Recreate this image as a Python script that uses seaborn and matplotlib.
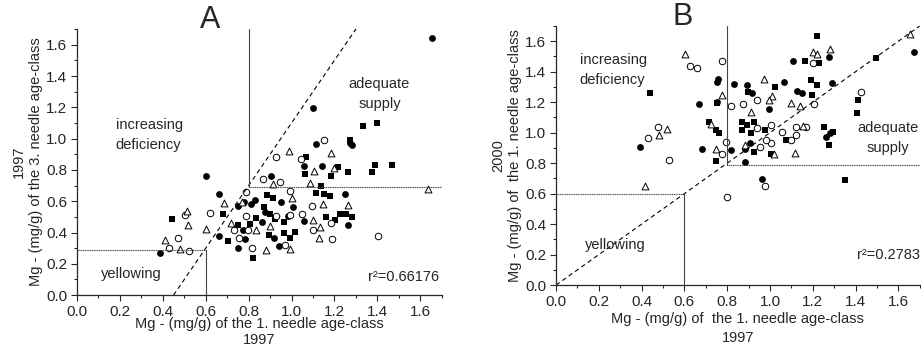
import matplotlib
matplotlib.use("Agg")
import numpy as np
import pandas as pd
import seaborn as sns
import matplotlib.pyplot as plt
from matplotlib.ticker import MultipleLocator

#%% data
# panel A : 1. vs 3. needle age-class, 1997
a_fcirc_x = [1.656, 1.098, 1.115, 1.141, 1.056, 1.274, 1.284, 0.602, 0.904, 0.664, 0.752, 0.777, 0.828, 0.813,
             0.952, 1.005, 1.247, 1.056, 1.265, 0.388, 0.664, 0.750, 0.784, 0.919, 0.940, 0.864, 0.878, 0.984, 0.772]
a_fcirc_y = [1.646, 1.198, 0.968, 0.825, 0.823, 0.974, 0.960, 0.761, 0.761, 0.644, 0.571, 0.593, 0.608, 0.584,
             0.597, 0.561, 0.644, 0.471, 0.450, 0.271, 0.380, 0.301, 0.356, 0.365, 0.311, 0.467, 0.533, 0.503, 0.418]
a_fsq_x = [0.442, 0.681, 0.704, 0.819, 0.752, 0.806, 0.833, 0.885, 0.913, 0.870, 0.898, 0.921, 0.964, 0.967,
           0.991, 1.014, 0.895, 1.067, 1.064, 1.116, 1.138, 1.152, 1.180, 1.184, 1.216, 1.262, 1.271, 1.335,
           1.397, 1.388, 1.374, 1.470, 1.161, 1.203, 1.226, 1.253, 1.281]
a_fsq_y = [0.484, 0.520, 0.343, 0.237, 0.450, 0.456, 0.495, 0.638, 0.618, 0.563, 0.520, 0.488, 0.467, 0.399,
           0.362, 0.405, 0.386, 0.883, 0.772, 0.652, 0.699, 0.648, 0.635, 0.759, 0.819, 0.787, 0.989, 1.079,
           1.102, 0.829, 0.787, 0.834, 0.499, 0.478, 0.520, 0.516, 0.499]
a_ocirc_x = [0.429, 0.473, 0.505, 0.521, 0.619, 0.788, 0.865, 0.927, 0.944, 0.788, 0.730, 0.757, 0.814, 0.795,
             0.928, 0.991, 0.991, 0.971, 1.043, 1.152, 1.095, 1.102, 1.186, 1.188, 1.405, 1.048]
a_ocirc_y = [0.301, 0.365, 0.510, 0.281, 0.527, 0.659, 0.740, 0.883, 0.723, 0.505, 0.414, 0.367, 0.299, 0.414,
             0.503, 0.512, 0.663, 0.322, 0.868, 0.989, 0.569, 0.414, 0.463, 0.360, 0.380, 0.520]
a_otri_x = [0.409, 0.482, 0.513, 0.516, 0.600, 0.687, 0.718, 0.769, 0.833, 0.881, 0.901, 0.915, 0.988, 0.994,
            1.002, 1.087, 1.105, 1.184, 1.200, 1.146, 1.102, 1.133, 1.130, 1.265, 1.634]
a_otri_y = [0.354, 0.296, 0.537, 0.446, 0.424, 0.588, 0.461, 0.595, 0.414, 0.286, 0.443, 0.708, 0.921, 0.296,
            0.623, 0.716, 0.793, 0.906, 0.812, 0.580, 0.478, 0.435, 0.367, 0.578, 0.680]

# panel B : 1. needle age-class 1997 vs 2000
b_fcirc_x = [0.391, 0.667, 0.682, 0.753, 0.757, 0.754, 0.833, 0.892, 0.915, 0.993, 0.883, 0.884, 0.817, 0.961,
             1.067, 1.106, 1.125, 1.150, 1.274, 1.291, 1.263, 1.279, 1.674, 0.905]
b_fcirc_y = [0.907, 1.187, 0.890, 1.333, 1.351, 1.202, 1.322, 1.311, 1.257, 1.154, 0.890, 0.809, 0.885, 0.693,
             1.333, 1.469, 1.274, 1.261, 1.497, 1.329, 0.973, 0.995, 1.526, 0.935]
b_fsq_x = [0.441, 0.715, 0.746, 0.762, 0.749, 0.754, 0.869, 0.869, 0.894, 0.912, 0.926, 0.923, 0.898, 0.978,
           1.025, 1.005, 1.075, 1.164, 1.192, 1.218, 1.228, 1.219, 1.196, 1.252, 1.276, 1.294, 1.349, 1.408,
           1.412, 1.495]
b_fsq_y = [1.257, 1.071, 1.016, 1.001, 0.813, 1.196, 1.067, 1.016, 1.049, 0.995, 1.071, 0.874, 1.268, 1.016,
           1.301, 0.863, 0.951, 1.471, 1.344, 1.635, 1.458, 1.311, 1.250, 1.038, 0.918, 1.005, 0.689, 1.126,
           1.217, 1.489]
b_ocirc_x = [0.432, 0.476, 0.526, 0.624, 0.659, 0.778, 0.775, 0.793, 0.797, 0.820, 0.875, 0.939, 0.939, 1.005,
             1.005, 1.055, 1.099, 1.121, 1.122, 1.169, 1.205, 1.200, 1.424, 0.975, 0.953, 0.981]
b_ocirc_y = [0.962, 1.034, 0.820, 1.438, 1.421, 1.469, 0.859, 0.940, 0.579, 1.174, 1.187, 1.213, 1.032, 1.049,
             0.929, 1.005, 0.951, 1.038, 0.984, 1.038, 1.185, 1.458, 1.268, 0.649, 0.907, 0.955]
b_otri_x = [0.415, 0.483, 0.520, 0.603, 0.726, 0.746, 0.775, 0.911, 0.884, 0.970, 1.008, 0.997, 1.017, 1.099,
            1.119, 1.141, 1.153, 1.202, 1.219, 1.279, 1.654]
b_otri_y = [0.649, 0.984, 1.021, 1.513, 1.060, 0.896, 1.246, 1.137, 0.918, 1.353, 1.242, 1.213, 0.863, 1.196,
            0.868, 1.174, 1.043, 1.530, 1.513, 1.552, 1.650]

#%% plotting
sns.set_style("ticks")
plt.rcParams['font.family'] = ['Liberation Sans', 'DejaVu Sans']
plt.rcParams['font.size'] = 10.5

fig = plt.figure(figsize=(9.21, 3.46), dpi=100)
axA = fig.add_axes([0.0836, 0.147, 0.396, 0.769])
axB = fig.add_axes([0.6037, 0.176, 0.395, 0.749])


def draw_points(ax, fc_x, fc_y, fs_x, fs_y, oc_x, oc_y, ot_x, ot_y):
    sns.scatterplot(x=fc_x, y=fc_y, marker='o', color='black', s=24, linewidth=0, ax=ax)
    sns.scatterplot(x=fs_x, y=fs_y, marker='s', color='black', s=20, linewidth=0, ax=ax)
    sns.scatterplot(x=oc_x, y=oc_y, marker='o', facecolor='white', edgecolor='black', s=22, linewidth=0.7, ax=ax)
    sns.scatterplot(x=ot_x, y=ot_y, marker='^', facecolor='white', edgecolor='black', s=24, linewidth=0.7, ax=ax)


def style_axis(ax):
    ax.set_xlim(0, 1.7)
    ax.set_ylim(0, 1.7)
    ax.xaxis.set_minor_locator(MultipleLocator(0.1))
    ax.yaxis.set_minor_locator(MultipleLocator(0.1))
    ticks = np.arange(0, 1.61, 0.2)
    ax.set_xticks(ticks)
    ax.set_yticks(ticks)
    ax.set_xticklabels([f"{v:.1f}" for v in ticks])
    ax.set_yticklabels([f"{v:.1f}" for v in ticks])
    ax.tick_params(which='major', direction='out', length=4, width=0.8, labelsize=11, pad=3)
    ax.tick_params(which='minor', direction='out', length=2, width=0.8)
    sns.despine(ax=ax)
    for s in ['left', 'bottom']:
        ax.spines[s].set_linewidth(0.9)


# ---- A
draw_points(axA, a_fcirc_x, a_fcirc_y, a_fsq_x, a_fsq_y, a_ocirc_x, a_ocirc_y, a_otri_x, a_otri_y)
xx = np.array([0.45, 1.31])
axA.plot(xx, 2 * xx - 0.9, color='black', lw=0.8, ls=(0, (4, 3)))
axA.plot([0.6, 0.6], [0, 0.29], color='#444444', lw=0.8)
axA.plot([0, 0.6], [0.29, 0.29], color='#444444', lw=0.8, ls=(0, (1, 0.6)))
axA.plot([0.8, 0.8], [0.69, 1.7], color='#444444', lw=0.8)
axA.plot([0.8, 1.7], [0.69, 0.69], color='#444444', lw=0.8, ls=(0, (1, 0.6)))
style_axis(axA)
axA.text(0.62, 1.76, "A", fontsize=22, ha='center', va='center')
axA.text(0.18, 1.09, "increasing", fontsize=10.5, va='center')
axA.text(0.18, 0.96, "deficiency", fontsize=10.5, va='center')
axA.text(1.41, 1.35, "adequate", fontsize=10.5, ha='center', va='center')
axA.text(1.41, 1.22, "supply", fontsize=10.5, ha='center', va='center')
axA.text(0.11, 0.135, "yellowing", fontsize=10.5, va='center')
axA.text(1.69, 0.115, "r²=0.66176", fontsize=10.5, ha='right', va='center')
axA.set_ylabel("1997\nMg - (mg/g) of the 3. needle age-class", fontsize=10.5, labelpad=2, linespacing=1.3)
axA.set_xlabel("Mg - (mg/g) of the 1. needle age-class\n1997", fontsize=10.5, labelpad=-1, linespacing=1.1)

# ---- B
draw_points(axB, b_fcirc_x, b_fcirc_y, b_fsq_x, b_fsq_y, b_ocirc_x, b_ocirc_y, b_otri_x, b_otri_y)
xx = np.array([0, 1.7])
axB.plot(xx, xx, color='black', lw=0.8, ls=(0, (4, 3)))
axB.plot([0.6, 0.6], [0, 0.6], color='#444444', lw=0.8)
axB.plot([0, 0.6], [0.6, 0.6], color='#444444', lw=0.8, ls=(0, (1, 0.6)))
axB.plot([0.8, 0.8], [0.79, 1.7], color='#444444', lw=0.8)
axB.plot([0.8, 1.7], [0.79, 0.79], color='#444444', lw=0.8, ls=(0, (1, 0.6)))
style_axis(axB)
axB.text(0.59, 1.76, "B", fontsize=22, ha='center', va='center')
axB.text(0.11, 1.475, "increasing", fontsize=10.5, va='center')
axB.text(0.11, 1.345, "deficiency", fontsize=10.5, va='center')
axB.text(1.55, 1.03, "adequate", fontsize=10.5, ha='center', va='center')
axB.text(1.55, 0.90, "supply", fontsize=10.5, ha='center', va='center')
axB.text(0.135, 0.26, "yellowing", fontsize=10.5, va='center')
axB.text(1.7, 0.195, "r²=0.2783", fontsize=10.5, ha='right', va='center')
axB.set_ylabel("2000\nMg - (mg/g) of  the 1. needle age-class", fontsize=10.5, labelpad=2, linespacing=1.3)
axB.set_xlabel("Mg - (mg/g) of  the 1. needle age-class\n1997", fontsize=10.5, labelpad=2, linespacing=1.5)

fig.savefig("out.png", dpi=100)
